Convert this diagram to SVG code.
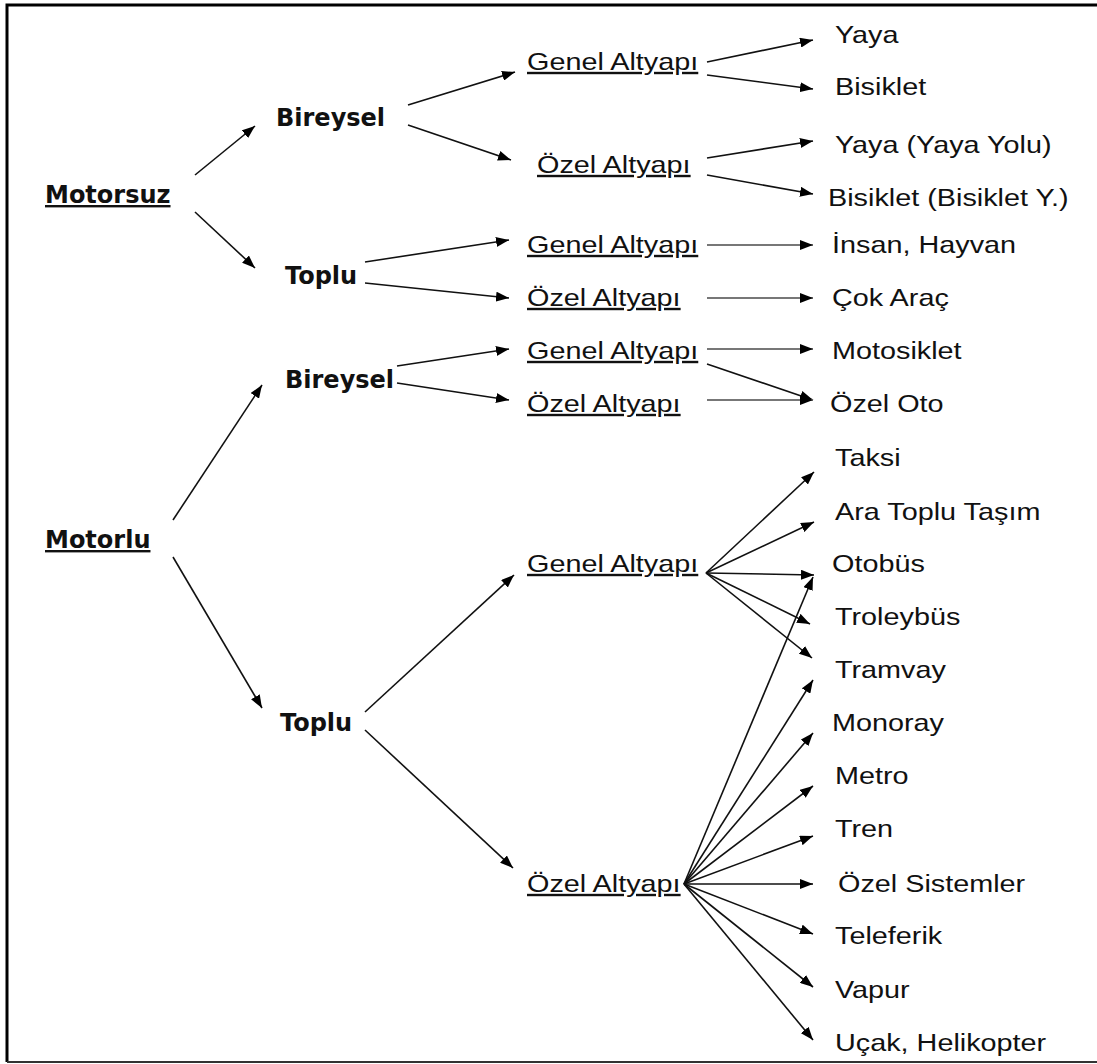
<svg xmlns="http://www.w3.org/2000/svg" width="1097" height="1064" viewBox="0 0 1097 1064">
<style>
.b{font-family:"DejaVu Sans",Verdana,sans-serif;font-weight:bold;font-size:24px;fill:#111}
.u{text-decoration:underline}
.t{font-family:"Liberation Sans",Arial,sans-serif;font-size:24px;fill:#111}
.c line{stroke:#111;stroke-width:1.6;marker-end:url(#ah)}
.c line.g{stroke:#777;stroke-width:2.2}
</style>
<defs>
<marker id="ah" markerUnits="userSpaceOnUse" markerWidth="14" markerHeight="10" refX="13" refY="5" orient="auto">
<path d="M0,0 L13,5 L0,10 z" fill="#000"/>
</marker>
</defs>
<rect width="1097" height="1064" fill="#fff"/>
<path d="M1097,5 H7 V1062" fill="none" stroke="#000" stroke-width="3"/>
<line x1="7" y1="1062" x2="1097" y2="1062" stroke="#333" stroke-width="2"/>

<g class="c">
<line x1="195" y1="175" x2="255" y2="126"/>
<line x1="195" y1="212" x2="255" y2="268"/>
<line x1="408" y1="105" x2="515" y2="72"/>
<line x1="408" y1="125" x2="511" y2="160"/>
<line x1="707" y1="62" x2="813" y2="40"/>
<line x1="707" y1="75" x2="813" y2="89"/>
<line x1="707" y1="158" x2="813" y2="141"/>
<line x1="707" y1="175" x2="813" y2="194"/>
<line x1="365" y1="262" x2="509" y2="240"/>
<line x1="365" y1="283" x2="509" y2="298"/>
<line class="g" x1="707" y1="245" x2="813" y2="245"/>
<line class="g" x1="707" y1="298" x2="813" y2="298"/>
<line x1="173" y1="520" x2="262" y2="385"/>
<line x1="173" y1="557" x2="262" y2="708"/>
<line x1="397" y1="366" x2="509" y2="349"/>
<line x1="397" y1="383" x2="509" y2="400"/>
<line class="g" x1="707" y1="349" x2="813" y2="349"/>
<line x1="707" y1="364" x2="813" y2="400"/>
<line class="g" x1="707" y1="400" x2="813" y2="400"/>
<line x1="365" y1="712" x2="514" y2="575"/>
<line x1="365" y1="730" x2="513" y2="868"/>
<line x1="706" y1="573" x2="814" y2="472"/>
<line x1="706" y1="573" x2="814" y2="522"/>
<line x1="706" y1="573" x2="814" y2="575"/>
<line x1="706" y1="573" x2="810" y2="624"/>
<line x1="706" y1="573" x2="812" y2="658"/>
<line x1="684" y1="884" x2="813" y2="577"/>
<line x1="684" y1="884" x2="813" y2="680"/>
<line x1="684" y1="884" x2="813" y2="733"/>
<line x1="684" y1="884" x2="813" y2="786"/>
<line x1="684" y1="884" x2="813" y2="836"/>
<line x1="684" y1="884" x2="813" y2="884"/>
<line x1="684" y1="884" x2="813" y2="934"/>
<line x1="684" y1="884" x2="813" y2="987"/>
<line x1="684" y1="884" x2="813" y2="1040"/>
</g>

<g id="motorsuz"><text class="b u" x="45" y="203">Motorsuz</text></g>
<g id="bireysel1"><text class="b" x="276" y="126">Bireysel</text></g>
<g id="toplu1"><text class="b" x="285" y="284">Toplu</text></g>
<g id="motorlu"><text class="b u" x="45" y="548">Motorlu</text></g>
<g id="bireysel2"><text class="b" x="285" y="388">Bireysel</text></g>
<g id="toplu2"><text class="b" x="280" y="731">Toplu</text></g>

<g id="genel1"><text class="t u" transform="translate(527,70) scale(1.2,1)">Genel Altyapı</text></g>
<g id="ozel1"><text class="t u" transform="translate(537,173) scale(1.2,1)">Özel Altyapı</text></g>
<g id="genel2"><text class="t u" transform="translate(527,253) scale(1.2,1)">Genel Altyapı</text></g>
<g id="ozel2"><text class="t u" transform="translate(527,306) scale(1.2,1)">Özel Altyapı</text></g>
<g id="genel3"><text class="t u" transform="translate(527,359) scale(1.2,1)">Genel Altyapı</text></g>
<g id="ozel3"><text class="t u" transform="translate(527,412) scale(1.2,1)">Özel Altyapı</text></g>
<g id="genel4"><text class="t u" transform="translate(527,572) scale(1.2,1)">Genel Altyapı</text></g>
<g id="ozel4"><text class="t u" transform="translate(527,892) scale(1.2,1)">Özel Altyapı</text></g>

<g id="yaya"><text class="t" transform="translate(835,43) scale(1.2,1)">Yaya</text></g>
<g id="bisiklet"><text class="t" transform="translate(835,95) scale(1.2,1)">Bisiklet</text></g>
<g id="yaya2"><text class="t" transform="translate(835,153) scale(1.2,1)">Yaya (Yaya Yolu)</text></g>
<g id="bisiklet2"><text class="t" transform="translate(828,206) scale(1.2,1)">Bisiklet (Bisiklet Y.)</text></g>
<g id="insan"><text class="t" transform="translate(832,253) scale(1.2,1)">İnsan, Hayvan</text></g>
<g id="cok"><text class="t" transform="translate(832,306) scale(1.2,1)">Çok Araç</text></g>
<g id="motosiklet"><text class="t" transform="translate(832,359) scale(1.2,1)">Motosiklet</text></g>
<g id="ozeloto"><text class="t" transform="translate(830,412) scale(1.2,1)">Özel Oto</text></g>
<g id="taksi"><text class="t" transform="translate(835,466) scale(1.2,1)">Taksi</text></g>
<g id="ara"><text class="t" transform="translate(835,520) scale(1.2,1)">Ara Toplu Taşım</text></g>
<g id="otobus"><text class="t" transform="translate(832,572) scale(1.2,1)">Otobüs</text></g>
<g id="troleybus"><text class="t" transform="translate(835,625) scale(1.2,1)">Troleybüs</text></g>
<g id="tramvay"><text class="t" transform="translate(835,678) scale(1.2,1)">Tramvay</text></g>
<g id="monoray"><text class="t" transform="translate(832,731) scale(1.2,1)">Monoray</text></g>
<g id="metro"><text class="t" transform="translate(835,784) scale(1.2,1)">Metro</text></g>
<g id="tren"><text class="t" transform="translate(835,837) scale(1.2,1)">Tren</text></g>
<g id="ozelsis"><text class="t" transform="translate(838,892) scale(1.2,1)">Özel Sistemler</text></g>
<g id="teleferik"><text class="t" transform="translate(835,944) scale(1.2,1)">Teleferik</text></g>
<g id="vapur"><text class="t" transform="translate(835,998) scale(1.2,1)">Vapur</text></g>
<g id="ucak"><text class="t" transform="translate(835,1051) scale(1.2,1)">Uçak, Helikopter</text></g>
</svg>
